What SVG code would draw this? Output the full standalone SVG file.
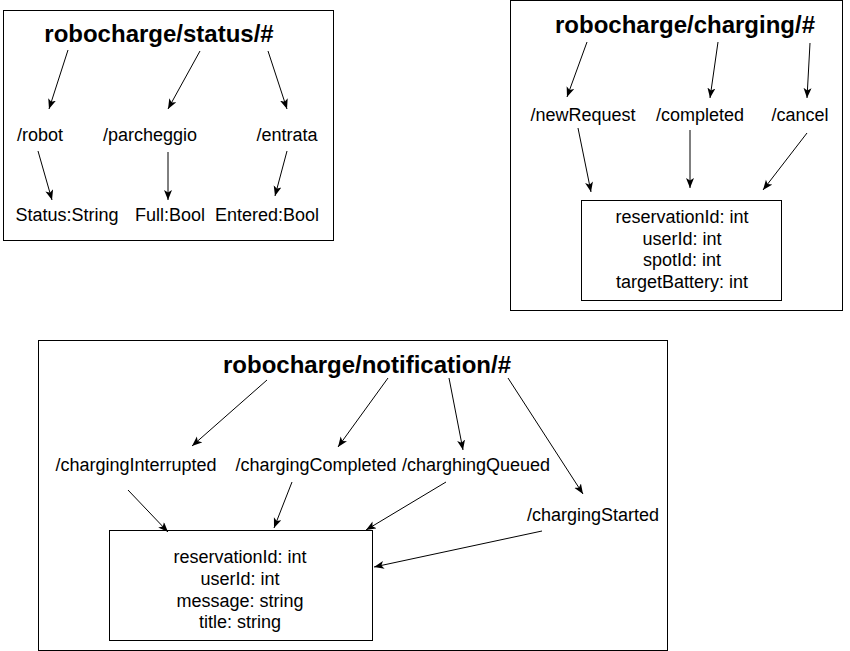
<svg xmlns="http://www.w3.org/2000/svg" width="850" height="651" viewBox="0 0 850 651">
<defs>
<marker id="ah" markerWidth="12" markerHeight="10" refX="10" refY="4" orient="auto" markerUnits="userSpaceOnUse">
<path d="M0,0 L10,4 L0,8 L2.5,4 Z" fill="#000"/>
</marker>
<style>
.frame{fill:#fff;stroke:#000;stroke-width:1}
.box{fill:#fff;stroke:#000;stroke-width:1}
.t{font-family:"Liberation Sans",Arial,sans-serif;font-size:24px;font-weight:bold;text-anchor:middle;fill:#000}
.l{font-family:"Liberation Sans",Arial,sans-serif;font-size:18px;text-anchor:middle;fill:#000}
.c line{stroke:#000;stroke-width:1;marker-end:url(#ah)}
</style>
</defs>
<rect width="850" height="651" fill="#fff"/>

<g id="status">
<rect class="frame" x="3.5" y="10.5" width="330" height="230"/>
<text class="t" x="159" y="42">robocharge/status/#</text>
<text class="l" x="40" y="141">/robot</text>
<text class="l" x="150" y="141">/parcheggio</text>
<text class="l" x="287" y="141">/entrata</text>
<text class="l" x="67" y="221">Status:String</text>
<text class="l" x="170" y="221">Full:Bool</text>
<text class="l" x="267" y="221">Entered:Bool</text>
</g>

<g id="charging">
<rect class="frame" x="510.5" y="0.5" width="332" height="310"/>
<text class="t" x="685" y="33">robocharge/charging/#</text>
<text class="l" x="583" y="121">/newRequest</text>
<text class="l" x="700" y="121">/completed</text>
<text class="l" x="800" y="121">/cancel</text>
<g id="charging-payload">
<rect class="box" x="581.5" y="200.5" width="200" height="100"/>
<text class="l" x="682" y="223">reservationId: int</text>
<text class="l" x="682" y="245">userId: int</text>
<text class="l" x="682" y="266">spotId: int</text>
<text class="l" x="682" y="288">targetBattery: int</text>
</g>
</g>

<g id="notification">
<rect class="frame" x="38.5" y="340.5" width="629" height="310"/>
<text class="t" x="367" y="373">robocharge/notification/#</text>
<text class="l" x="136" y="471">/chargingInterrupted</text>
<text class="l" x="316" y="471">/chargingCompleted</text>
<text class="l" x="476" y="471">/charghingQueued</text>
<text class="l" x="593" y="521">/chargingStarted</text>
<g id="notification-payload">
<rect class="box" x="109.5" y="530.5" width="263" height="110"/>
<text class="l" x="240" y="563">reservationId: int</text>
<text class="l" x="240" y="585">userId: int</text>
<text class="l" x="240" y="607">message: string</text>
<text class="l" x="240" y="628">title: string</text>
</g>
</g>

<g id="connectors" class="c">
<line x1="68" y1="50" x2="49" y2="109"/>
<line x1="200" y1="51" x2="168" y2="109"/>
<line x1="268" y1="51" x2="287" y2="109"/>
<line x1="38" y1="151" x2="52" y2="200"/>
<line x1="168" y1="152" x2="168" y2="200"/>
<line x1="287" y1="151" x2="275" y2="196"/>

<line x1="587" y1="42" x2="567" y2="97"/>
<line x1="718" y1="42" x2="710" y2="98"/>
<line x1="810" y1="43" x2="807" y2="98"/>
<line x1="578" y1="128" x2="591" y2="192"/>
<line x1="690" y1="130" x2="690" y2="188"/>
<line x1="807" y1="133" x2="763" y2="190"/>

<line x1="267" y1="380" x2="192" y2="446"/>
<line x1="388" y1="378" x2="338" y2="447"/>
<line x1="449" y1="378" x2="463" y2="450"/>
<line x1="508" y1="378" x2="583" y2="494"/>
<line x1="128" y1="490" x2="168" y2="532"/>
<line x1="292" y1="482" x2="274" y2="528"/>
<line x1="446" y1="482" x2="366" y2="530"/>
<line x1="542" y1="531" x2="374" y2="567"/>
</g>
</svg>
